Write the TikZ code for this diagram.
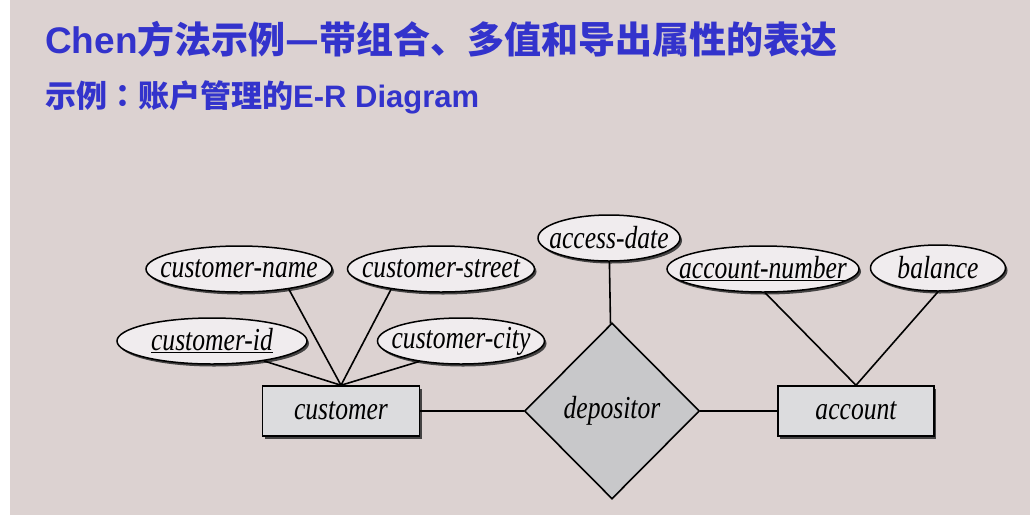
\documentclass[tikz,border=0pt]{standalone}
\usepackage{fontspec}
\newfontfamily\cjk{Noto Sans CJK SC}
\newfontfamily\cjkjp{Noto Sans CJK JP}
\newfontfamily\lat{Liberation Sans}
\newfontfamily\erfont{Liberation Serif}[FakeStretch=0.8]
\usetikzlibrary{shapes.geometric,shadows}

\definecolor{titleblue}{RGB}{51,51,204}
\definecolor{slidebg}{RGB}{220,210,209}
\definecolor{attrfill}{RGB}{240,236,238}
\definecolor{entfill}{RGB}{220,220,222}
\definecolor{relfill}{RGB}{200,200,202}

\begin{document}
\begin{tikzpicture}[x=1pt,y=-1pt,
	every node/.style={font=\fontsize{32}{34}\erfont\itshape},
	attr/.style={ellipse,draw,line width=1.5pt,fill=attrfill,inner sep=0pt,
		minimum height=46pt,
		drop shadow={shadow xshift=2pt,shadow yshift=-2.5pt,fill=black!80,opacity=0.9},
		execute at begin node={\hbox to 0pt\bgroup\hss},
		execute at end node={\hss\egroup}},
	entity/.style={rectangle,draw,line width=1.5pt,fill=entfill,
		minimum width=157pt,minimum height=50pt,
		drop shadow={shadow xshift=2pt,shadow yshift=-2.5pt,fill=black!80,opacity=0.9}},
	rel/.style={diamond,draw,line width=1.6pt,fill=relfill,inner sep=0pt,
		minimum width=175pt,minimum height=176pt},
	link/.style={line width=1.6pt}
]

	% slide background
	\fill[white] (0,0) rectangle (1030,515);
	\fill[slidebg] (10,0) rectangle (1030,515);
	\useasboundingbox (0,0) rectangle (1030,515);

	% headings
	\node[anchor=base west,inner sep=0pt,text=titleblue,
		font=\fontsize{37}{40}\selectfont\bfseries] (title) at (45,53)
		{{\lat Chen}{\cjk 方法示例—带组合、多值和导出属性的表达}};
	\node[anchor=base west,inner sep=0pt,text=titleblue,
		font=\fontsize{31}{34}\selectfont\bfseries] (subtitle) at (45,107)
		{{\cjk 示例}{\cjkjp ：}{\cjk 账户管理的}{\lat E-R Diagram}};

	% customer side
	\node[attr,minimum width=186pt] (cname) at (239,269) {customer-name};
	\node[attr,minimum width=187pt] (cstreet) at (441,269) {customer-street};
	\node[attr,minimum width=190pt] (cid) at (212,341) {\underline{customer-id}};
	\node[attr,minimum width=167pt] (ccity) at (461,341) {customer-city};
	\node[entity] (cust) at (341,411) {customer};

	% relationship
	\node[rel] (dep) at (612,411) {depositor};
	\node[attr,minimum width=142pt] (adate) at (609,238) {access-date};

	% account side
	\node[entity,minimum width=156pt] (acct) at (856,411) {account};
	\node[attr,minimum width=192pt] (accnum) at (763,269) {\underline{account-number}};
	\node[attr,minimum width=135pt] (bal) at (938,268) {balance};

	\draw[link] (cname.-22) -- (cust.north);
	\draw[link] (cstreet.-158) -- (cust.north);
	\draw[link] (cid.-21) -- (cust.north);
	\draw[link] (ccity.-154) -- (cust.north);
	\draw[link] (cust) -- (dep);
	\draw[link] (adate) -- (dep);
	\draw[link] (dep) -- (acct);
	\draw[link] (accnum.-85) -- (acct.north);
	\draw[link] (bal.south) -- (acct.north);

\end{tikzpicture}
\end{document}
